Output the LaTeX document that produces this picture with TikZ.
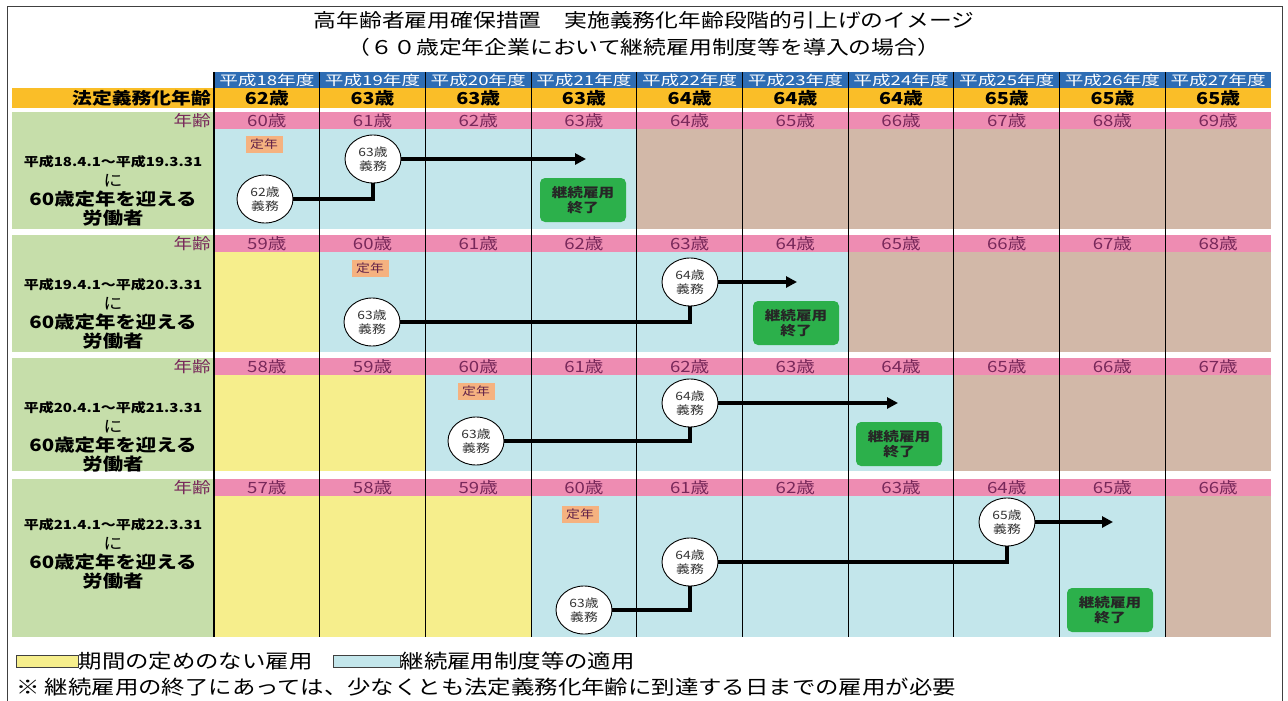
\documentclass[tikz,border=0pt]{standalone}
\usepackage{fontspec}
\setmainfont{Noto Sans CJK JP}[FakeStretch=1.2]
\newfontfamily\hdrfont{Noto Sans CJK JP}[FakeStretch=1.38]
\usetikzlibrary{arrows.meta,shapes.geometric}
\definecolor{hdrblue}{HTML}{2E6DB4}
\definecolor{lawor}{HTML}{FABE28}
\definecolor{pinkrow}{HTML}{EE8CB2}
\definecolor{agecol}{HTML}{78285A}
\definecolor{lblgreen}{HTML}{C6DEAA}
\definecolor{ltb}{HTML}{C3E6EB}
\definecolor{yel}{HTML}{F6EE8C}
\definecolor{brn}{HTML}{D2B8A8}
\definecolor{badge}{HTML}{F5B280}
\definecolor{boxgreen}{HTML}{2CB04B}
\tikzset{
  fs/.style={font=\fontsize{#1}{#1}\selectfont},
  yrtxt/.style={text=white, inner sep=0pt, font=\hdrfont\fontsize{13.5}{14}\selectfont},
  lawtxt/.style={text=black, inner sep=0pt, font=\bfseries\fontsize{16.5}{17}\selectfont},
  agetxt/.style={text=agecol, inner sep=0pt, font=\fontsize{15.5}{16}\selectfont},
  lbldate/.style={inner sep=0pt, font=\bfseries\fontsize{12.5}{13}\selectfont},
  lblni/.style={inner sep=0pt, font=\fontsize{16}{16}\selectfont},
  lblbig/.style={inner sep=0pt, font=\bfseries\fontsize{17}{17}\selectfont},
  teinen/.style={fill=badge, text=agecol!80!black, minimum width=37pt, minimum height=17pt, inner sep=0pt, font=\fontsize{11.5}{11.5}\selectfont},
  circ/.style={ellipse, draw=black, line width=0.9pt, fill=white, minimum width=56pt, minimum height=48pt, inner sep=0pt, align=center, text=black!80, font=\fontsize{11.5}{13.5}\selectfont},
  endbox/.style={fill=boxgreen, rounded corners=5pt, minimum width=86pt, minimum height=44pt, inner sep=0pt, align=center, text=black!85, font=\bfseries\fontsize{13}{15.5}\selectfont},
  conn/.style={line width=3.2pt, black},
  arr/.style={conn, -{Triangle[length=11pt,width=11pt]}},
  vline/.style={line width=1.1pt, black},
  legbox/.style={draw=black!75, line width=0.8pt, minimum height=12pt, inner sep=0pt},
  legtxt/.style={inner sep=0pt, font=\fontsize{19.5}{19.5}\selectfont},
}
\begin{document}
\begin{tikzpicture}[x=1pt,y=-1pt]
\useasboundingbox (0,0) rectangle (1288,701);
\fill[white] (0,0) rectangle (1288,701);
% frame
\draw[line width=1pt, black!75] (7,701) -- (7,7) -- (1282,7) -- (1282,701);
% title
\node[fs=19] (t1) at (644,20) {高年齢者雇用確保措置　実施義務化年齢段階的引上げのイメージ};
\node[fs=19] (t2) at (644,47) {（６０歳定年企業において継続雇用制度等を導入の場合）};
% header rows
\fill[hdrblue] (214,72) rectangle (1271,88);
\fill[lawor] (12,88) rectangle (1271,108);
\node[lawtxt, anchor=east] (lawlbl) at (211,98.5) {法定義務化年齢};
\foreach \i/\v in {0/62,1/63,2/63,3/63,4/64,5/64,6/64,7/65,8/65,9/65} {
  \pgfmathtruncatemacro{\yrv}{18+\i}
  \node[yrtxt] (yr\i) at ({214+105.7*(\i+0.5)},80.5) {平成\yrv 年度};
  \node[lawtxt] (law\i) at ({214+105.7*(\i+0.5)},98.5) {\v 歳};
}
% blocks
\foreach \k/\bt/\bb/\ny/\nb/\ag/\lab/\ly in {
  1/112/229/0/3/60/{平成18.4.1～平成19.3.31}/50,
  2/235/352/1/5/59/{平成19.4.1～平成20.3.31}/50,
  3/358/471/2/6/58/{平成20.4.1～平成21.3.31}/50,
  4/479/637/3/8/57/{平成21.4.1～平成22.3.31}/46} {
  \fill[lblgreen] (12,\bt) rectangle (213,\bb);
  \fill[pinkrow] (214,\bt) rectangle (1271,{\bt+17});
  \fill[yel] (214,{\bt+17}) rectangle ({214+105.7*\ny},\bb);
  \fill[ltb] ({214+105.7*\ny},{\bt+17}) rectangle ({214+105.7*(\nb+1)},\bb);
  \fill[brn] ({214+105.7*(\nb+1)},{\bt+17}) rectangle (1271,\bb);
  \node[agetxt, anchor=east] (nen\k) at (211,{\bt+9}) {年齢};
  \foreach \i in {0,...,9} {
    \pgfmathtruncatemacro{\agev}{\ag+\i}
    \node[agetxt] (age\k-\i) at ({214+105.7*(\i+0.5)},{\bt+9}) {\agev 歳};
  }
  \node[lbldate] (lab\k-a) at (113,{\bt+\ly}) {\lab};
  \node[lblni] (lab\k-b) at (113,{\bt+\ly+19}) {に};
  \node[lblbig] (lab\k-c) at (113,{\bt+\ly+37}) {60歳定年を迎える};
  \node[lblbig] (lab\k-d) at (113,{\bt+\ly+56}) {労働者};
}
% column lines
\foreach \i in {0,...,9} {
  \draw[vline] ({214+105.7*\i},72) -- ({214+105.7*\i},637);
}
% block 1
\node[teinen] (tn1) at (264,144) {定年};
\node[circ] (c1a) at (265,199) {62歳\\義務};
\node[circ] (c1b) at (373,159) {63歳\\義務};
\coordinate (ae1) at (586,159);
\node[endbox] (eb1) at (583,200) {継続雇用\\終了};
\draw[conn] (c1a.east) -| (c1b.south);
\draw[arr] (c1b.east) -- (c1b.east -| ae1);
% block 2
\node[teinen] (tn2) at (370,268) {定年};
\node[circ] (c2a) at (372,322) {63歳\\義務};
\node[circ] (c2b) at (690,282) {64歳\\義務};
\coordinate (ae2) at (797,282);
\node[endbox] (eb2) at (796,323) {継続雇用\\終了};
\draw[conn] (c2a.east) -| (c2b.south);
\draw[arr] (c2b.east) -- (c2b.east -| ae2);
% block 3
\node[teinen] (tn3) at (476,391) {定年};
\node[circ] (c3a) at (476,441) {63歳\\義務};
\node[circ] (c3b) at (690,403) {64歳\\義務};
\coordinate (ae3) at (898,403);
\node[endbox] (eb3) at (899,444) {継続雇用\\終了};
\draw[conn] (c3a.east) -| (c3b.south);
\draw[arr] (c3b.east) -- (c3b.east -| ae3);
% block 4
\node[teinen] (tn4) at (580,514) {定年};
\node[circ] (c4a) at (584,610) {63歳\\義務};
\node[circ] (c4b) at (690,562) {64歳\\義務};
\node[circ] (c4c) at (1007,522) {65歳\\義務};
\coordinate (ae4) at (1113,522);
\node[endbox] (eb4) at (1110,610) {継続雇用\\終了};
\draw[conn] (c4a.east) -| (c4b.south);
\draw[conn] (c4b.east) -| (c4c.south);
\draw[arr] (c4c.east) -- (c4c.east -| ae4);
% legend
\node[legbox, fill=yel, minimum width=62pt] (lg1) at (47,661) {};
\node[legtxt, anchor=west] (lt1) at (lg1.east) {期間の定めのない雇用};
\node[legbox, fill=ltb, minimum width=67pt] (lg2) at (366.5,661) {};
\node[legtxt, anchor=west] (lt2) at (lg2.east) {継続雇用制度等の適用};
\node[legtxt, anchor=west] (note) at (16,687) {※ 継続雇用の終了にあっては、少なくとも法定義務化年齢に到達する日までの雇用が必要};
\end{tikzpicture}
\end{document}
